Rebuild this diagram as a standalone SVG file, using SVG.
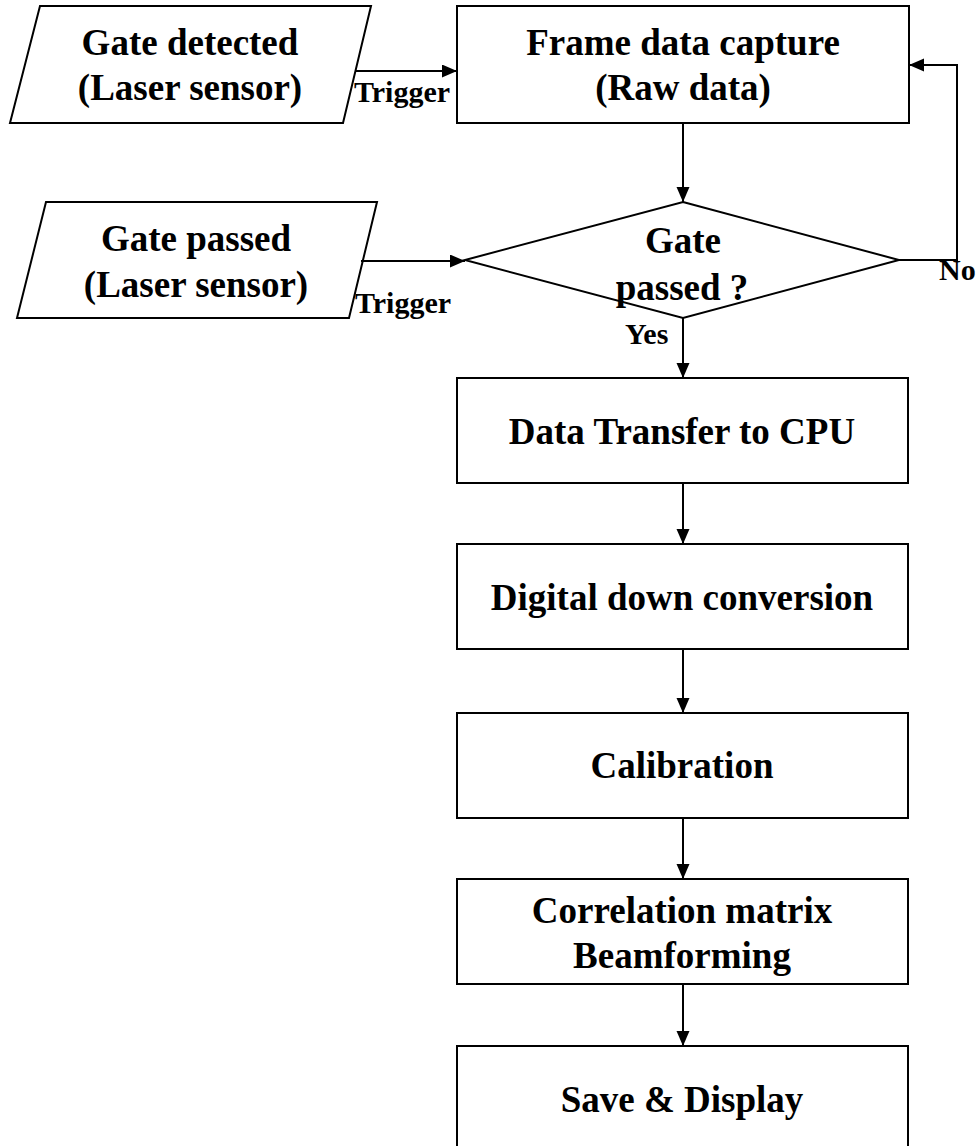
<svg xmlns="http://www.w3.org/2000/svg" width="979" height="1146" viewBox="0 0 979 1146">
  <style>
    .shape { fill: #ffffff; stroke: #000000; stroke-width: 2; }
    .main { font-family: "Liberation Serif", "Times New Roman", serif; font-weight: bold; font-size: 37px; fill: #000000; text-anchor: middle; }
    .lbl { font-family: "Liberation Serif", "Times New Roman", serif; font-weight: bold; font-size: 30px; fill: #000000; }
    .conn { fill: none; stroke: #000000; stroke-width: 2; }
  </style>
  <defs>
    <marker id="arrow" markerUnits="userSpaceOnUse" markerWidth="16" markerHeight="14" refX="15" refY="6.5" orient="auto">
      <path d="M0,0 L15,6.5 L0,13 Z" fill="#000000"/>
    </marker>
  </defs>
  <rect x="0" y="0" width="979" height="1146" fill="#ffffff"/>

  <!-- process flow -->
  <g id="gate-detected">
    <polygon class="shape" points="40,6 371,6 343,123 10,123"/>
    <text class="main" x="190" y="55">Gate detected</text>
    <text class="main" x="190" y="100">(Laser sensor)</text>
  </g>

  <g id="frame-capture">
    <rect class="shape" x="457" y="6" width="452" height="117"/>
    <text class="main" x="683" y="55">Frame data capture</text>
    <text class="main" x="683" y="100">(Raw data)</text>
  </g>

  <g id="gate-passed">
    <polygon class="shape" points="46,202 377,202 349,318 17,318"/>
    <text class="main" x="196" y="251">Gate passed</text>
    <text class="main" x="196" y="297">(Laser sensor)</text>
  </g>

  <g id="decision">
    <polygon class="shape" points="683,202 899,260 683,318 465,260"/>
    <text class="main" x="683" y="253">Gate</text>
    <text class="main" x="682" y="300">passed ?</text>
  </g>

  <g id="transfer">
    <rect class="shape" x="457" y="378" width="451" height="105"/>
    <text class="main" x="682" y="444">Data Transfer to CPU</text>
  </g>

  <g id="ddc">
    <rect class="shape" x="457" y="544" width="451" height="105"/>
    <text class="main" x="682" y="610">Digital down conversion</text>
  </g>

  <g id="calibration">
    <rect class="shape" x="457" y="713" width="451" height="105"/>
    <text class="main" x="682" y="778">Calibration</text>
  </g>

  <g id="beamforming">
    <rect class="shape" x="457" y="879" width="451" height="105"/>
    <text class="main" x="682" y="923">Correlation matrix</text>
    <text class="main" x="682" y="968">Beamforming</text>
  </g>

  <g id="output">
    <rect class="shape" x="457" y="1046" width="451" height="110"/>
    <text class="main" x="682" y="1112">Save &amp; Display</text>
  </g>

  <g id="connectors">
    <line class="conn" x1="356" y1="71" x2="457" y2="71" marker-end="url(#arrow)"/>
    <line class="conn" x1="361" y1="261" x2="465" y2="261" marker-end="url(#arrow)"/>
    <line class="conn" x1="683" y1="123" x2="683" y2="202" marker-end="url(#arrow)"/>
    <polyline class="conn" points="899,260 957,260 957,65 909,65" marker-end="url(#arrow)"/>
    <line class="conn" x1="683" y1="318" x2="683" y2="378" marker-end="url(#arrow)"/>
    <line class="conn" x1="683" y1="483" x2="683" y2="544" marker-end="url(#arrow)"/>
    <line class="conn" x1="683" y1="649" x2="683" y2="713" marker-end="url(#arrow)"/>
    <line class="conn" x1="683" y1="818" x2="683" y2="879" marker-end="url(#arrow)"/>
    <line class="conn" x1="683" y1="984" x2="683" y2="1046" marker-end="url(#arrow)"/>
    <text class="lbl" x="354" y="102">Trigger</text>
    <text class="lbl" x="355" y="313">Trigger</text>
    <text class="lbl" x="625" y="344">Yes</text>
    <text class="lbl" x="939" y="280">No</text>
  </g>
</svg>
